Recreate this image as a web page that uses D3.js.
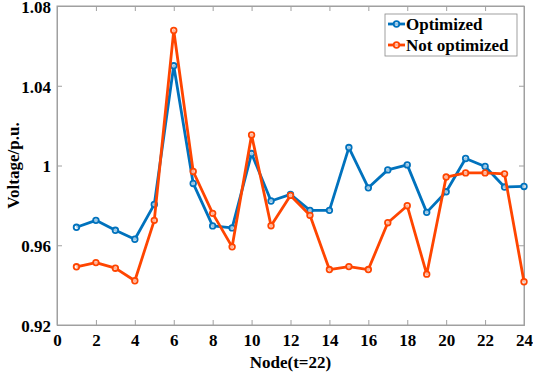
<!DOCTYPE html>
<html><head><meta charset="utf-8">
<script src="https://cdn.jsdelivr.net/npm/d3@7"></script>
<style>body{margin:0;background:#fff}svg{display:block}</style>
</head><body>
<svg id="c" width="533" height="374"></svg>
<script>
const nodes = d3.range(1, 25);
const optimized = [0.969,0.9725,0.9675,0.963,0.9805,1.050,0.991,0.9697,0.9687,1.006,0.9822,0.9855,0.9775,0.9775,1.009,0.9888,0.9978,1.0003,0.9765,0.9868,1.0035,0.9995,0.9892,0.9895];
const notOptimized = [0.9492,0.9513,0.9485,0.9422,0.9725,1.0677,0.997,0.976,0.9592,1.0153,0.9698,0.985,0.975,0.9478,0.9493,0.9478,0.9713,0.9798,0.9455,0.9942,0.9963,0.9963,0.9958,0.9417];
const xTicks = [0,2,4,6,8,10,12,14,16,18,20,22,24];
const yTicks = [0.92,0.96,1,1.04,1.08];
const seriesNames = ["Optimized","Not optimized"];
const colors = ["#0072BD","#FF4500"];

const svg = d3.select("#c");
const L=57,R=524,T=6,B=325;
const x = d3.scaleLinear().domain([0,24]).range([L,R]);
const y = d3.scaleLinear().domain([0.92,1.08]).range([B,T]);
const FONT = "Liberation Serif";
const axisColor = "#A0A0A0";
function styleText(sel){ return sel.attr("font-family",FONT).attr("font-weight","bold").attr("font-size",17).attr("fill","#000"); }

svg.append("rect").attr("x",L).attr("y",T).attr("width",R-L).attr("height",B-T)
  .attr("fill","none").attr("stroke",axisColor).attr("stroke-width",1);

const xa = svg.append("g").attr("transform",`translate(0,${B})`)
  .call(d3.axisBottom(x).tickValues(xTicks).tickSize(-5).tickPadding(9).tickFormat(d3.format("d")));
const xa2 = svg.append("g").attr("transform",`translate(0,${T})`)
  .call(d3.axisTop(x).tickValues(xTicks).tickSize(-5).tickFormat(""));
const ya = svg.append("g").attr("transform",`translate(${L},0)`)
  .call(d3.axisLeft(y).tickValues(yTicks).tickSize(-5).tickPadding(6).tickFormat(d=>d===1?"1":d3.format(".2f")(d)));
const ya2 = svg.append("g").attr("transform",`translate(${R},0)`)
  .call(d3.axisRight(y).tickValues(yTicks).tickSize(-5).tickFormat(""));
[xa,xa2,ya,ya2].forEach(g=>{
  g.attr("font-family",FONT).attr("font-size",17);
  g.select(".domain").attr("stroke",axisColor);
  g.selectAll(".tick line").attr("stroke",axisColor);
  styleText(g.selectAll("text"));
});
ya.selectAll("text").attr("dy","0.38em");

const line = d3.line().x((d,i)=>x(nodes[i])).y(d=>y(d));
[optimized, notOptimized].forEach((s,k)=>{
  svg.append("path").datum(s).attr("d",line).attr("fill","none")
    .attr("stroke",colors[k]).attr("stroke-width",2.8).attr("stroke-linejoin","round");
  svg.append("g").selectAll("circle").data(s).join("circle")
    .attr("cx",(d,i)=>x(nodes[i])).attr("cy",d=>y(d)).attr("r",2.8)
    .attr("fill","#fff").attr("fill-opacity",0.6).attr("stroke",colors[k]).attr("stroke-width",1.8);
});

const lg = svg.append("g");
lg.append("rect").attr("x",385).attr("y",14).attr("width",132).attr("height",42)
  .attr("fill","#fff").attr("stroke","#888").attr("stroke-width",0.8);
seriesNames.forEach((n,k)=>{
  const yy = 24 + k*21;
  lg.append("line").attr("x1",388).attr("x2",405).attr("y1",yy).attr("y2",yy)
    .attr("stroke",colors[k]).attr("stroke-width",2.8);
  lg.append("circle").attr("cx",396.5).attr("cy",yy).attr("r",2.8)
    .attr("fill","#fff").attr("fill-opacity",0.6).attr("stroke",colors[k]).attr("stroke-width",1.8);
  styleText(lg.append("text").attr("x",406).attr("y",yy+6).text(n));
});

styleText(svg.append("text").attr("x",(L+R)/2).attr("y",368).attr("text-anchor","middle").text("Node(t=22)"));
styleText(svg.append("text").attr("transform",`translate(19,${(T+B)/2}) rotate(-90)`).attr("text-anchor","middle").text("Voltage/p.u."));
</script>
</body></html>
